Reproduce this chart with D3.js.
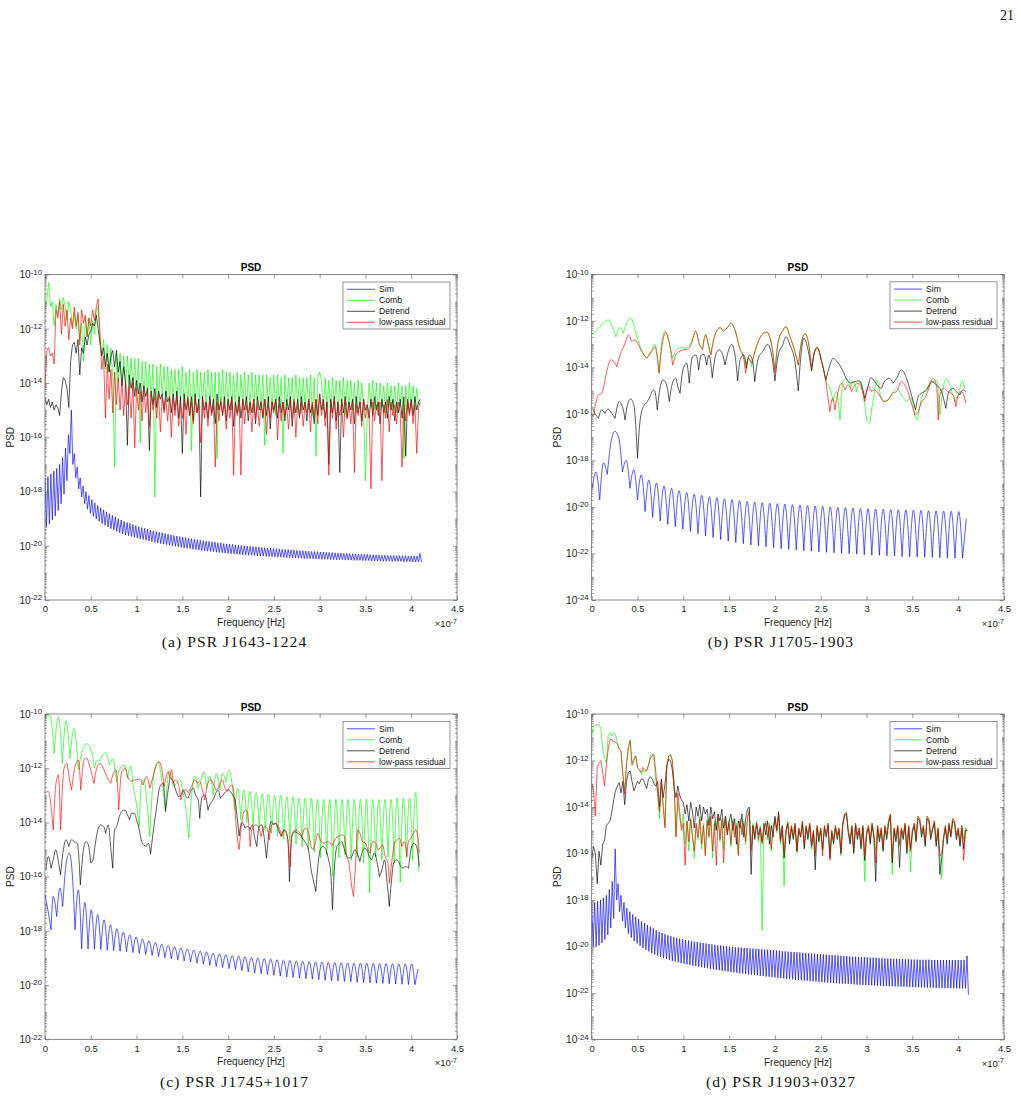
<!DOCTYPE html>
<html><head><meta charset="utf-8">
<script src="https://cdn.jsdelivr.net/npm/d3@7"></script>
<style>body{margin:0;background:#fff}svg{display:block}</style>
</head><body>
<script>
// ===== DATA (frequencies in units of 1e-7 Hz, PSD values as log10) =====
const legendLabels = ["Sim", "Comb", "Detrend", "low-pass residual"];
const xTickValues = [0, 0.5, 1, 1.5, 2, 2.5, 3, 3.5, 4, 4.5];
const captions = ["(a) PSR J1643-1224", "(b) PSR J1705-1903", "(c) PSR J1745+1017", "(d) PSR J1903+0327"];

// ---- Panel (a) PSR J1643-1224 : uniform grid, step 0.02 ----
const combA = [-11.3,-10.9,-10.3,-11.2,-11.0,-11.9,-11.1,-11.5,-10.9,-11.3,
-10.85,-11.2,-11.7,-11.0,-11.3,-11.9,-11.4,-12.0,-11.5,-12.4,
-11.8,-13.2,-11.6,-12.3,-11.6,-12.6,-11.7,-12.2,-11.4,-11.2,
-12.4,-13.0,-12.4,-13.5,-12.6,-13.6,-12.7,-13.8,-17.1,-12.9,
-14.0,-12.9,-14.1,-13.0,-14.2,-13.0,-14.1,-13.1,-14.3,-13.1,
-14.3,-13.1,-16.2,-13.2,-14.4,-13.2,-14.5,-13.3,-14.5,-13.3,
-18.2,-13.4,-14.6,-13.3,-14.5,-13.4,-14.7,-13.4,-14.7,-13.5,
-14.6,-13.5,-14.8,-13.5,-14.7,-13.4,-14.9,-13.6,-14.8,-13.5,
-16.5,-13.6,-14.8,-13.5,-15.0,-13.6,-14.8,-13.6,-14.9,-13.5,
-14.8,-13.6,-15.0,-13.6,-16.8,-13.6,-14.8,-13.5,-14.9,-13.6,
-14.8,-13.6,-15.0,-13.7,-14.9,-13.6,-15.1,-13.7,-14.8,-13.6,
-15.0,-13.7,-14.9,-13.6,-15.1,-13.7,-14.8,-13.7,-15.0,-13.7,
-16.3,-13.7,-14.9,-13.8,-15.0,-13.7,-15.2,-13.7,-14.9,-13.8,
-16.6,-13.7,-15.0,-13.8,-14.9,-13.8,-15.1,-13.7,-14.8,-13.8,
-15.1,-13.8,-14.9,-13.8,-15.0,-13.7,-15.2,-13.8,-16.7,-13.8,
-13.6,-13.9,-15.0,-13.8,-14.9,-13.9,-15.1,-13.8,-14.8,-13.9,
-15.1,-13.9,-14.9,-13.8,-15.2,-13.9,-14.9,-13.9,-15.0,-14.0,
-15.1,-13.9,-14.9,-14.0,-15.0,-17.6,-15.1,-14.0,-14.9,-13.9,
-15.0,-14.0,-15.2,-14.0,-14.9,-14.1,-15.1,-14.0,-14.9,-14.1,
-15.0,-14.1,-15.1,-14.0,-14.9,-14.1,-16.8,-14.1,-15.0,-14.0,
-14.9,-14.1,-15.0,-14.2,-14.8,-14.7];
const detrendA = [-14.55,-14.8,-14.6,-14.9,-14.7,-15.0,-14.8,-14.9,-15.2,-14.3,
-13.8,-13.9,-14.2,-14.9,-13.2,-12.6,-12.5,-12.9,-12.4,-13.7,
-12.7,-12.9,-12.3,-12.6,-12.2,-12.1,-11.8,-11.9,-11.5,-12.0,
-12.5,-13.0,-12.7,-13.4,-12.9,-13.6,-13.0,-12.8,-13.4,-12.8,
-13.6,-13.2,-14.1,-13.4,-14.0,-16.3,-13.7,-14.2,-13.8,-14.5,
-13.9,-14.4,-14.0,-14.7,-14.1,-14.5,-14.2,-16.5,-14.3,-14.8,
-14.2,-14.9,-14.3,-14.6,-14.4,-15.0,-14.3,-14.7,-14.5,-15.1,
-14.4,-15.0,-14.3,-15.3,-14.5,-16.6,-14.4,-15.0,-14.6,-15.2,
-14.5,-15.4,-14.4,-15.1,-14.6,-18.2,-14.5,-15.0,-14.7,-15.3,
-14.5,-15.1,-14.6,-15.5,-14.4,-15.0,-14.7,-15.2,-14.5,-15.4,
-14.6,-15.0,-14.5,-15.6,-14.7,-15.1,-14.5,-15.3,-14.6,-15.0,
-14.5,-15.4,-14.7,-15.1,-14.6,-15.5,-14.5,-15.0,-14.7,-15.3,
-14.6,-15.2,-14.5,-15.7,-14.7,-15.0,-14.6,-15.3,-14.5,-15.1,
-14.7,-15.4,-14.6,-15.0,-14.5,-15.6,-14.7,-15.1,-14.6,-15.3,
-14.5,-15.0,-14.7,-15.4,-14.6,-15.1,-14.8,-15.5,-14.6,-15.2,
-14.4,-15.0,-14.6,-15.3,-14.7,-17.0,-14.6,-15.1,-14.5,-15.4,
-14.7,-17.3,-14.6,-15.1,-14.5,-15.3,-14.7,-15.0,-14.6,-15.5,
-14.5,-15.1,-14.7,-15.4,-14.6,-15.0,-14.8,-15.3,-14.6,-15.2,
-14.5,-15.0,-14.7,-15.5,-14.6,-15.1,-14.7,-15.3,-14.5,-15.0,
-14.6,-15.4,-14.7,-15.1,-14.6,-15.3,-14.5,-16.7,-14.6,-15.1,
-14.6,-15.2,-14.5,-15.0,-14.7,-14.6];
const residA = [-14.2,-12.8,-12.7,-13.0,-12.9,-13.3,-11.3,-11.6,-11.0,-12.2,
-11.1,-11.9,-11.3,-12.4,-11.6,-12.0,-11.2,-11.9,-11.4,-12.6,
-11.3,-11.8,-11.5,-12.3,-11.6,-11.9,-11.3,-11.7,-11.2,-10.9,
-12.1,-13.5,-13.0,-15.3,-13.3,-14.6,-13.5,-15.1,-13.6,-14.8,
-13.8,-15.0,-13.9,-15.2,-14.0,-14.8,-14.1,-15.3,-14.0,-16.4,
-14.2,-15.0,-14.3,-15.4,-14.2,-15.1,-14.4,-15.6,-14.3,-15.0,
-14.5,-15.3,-14.4,-15.8,-14.5,-15.1,-14.6,-15.4,-14.5,-16.0,
-14.6,-15.2,-14.5,-15.6,-14.7,-15.3,-14.6,-15.9,-14.5,-15.2,
-14.7,-15.5,-14.6,-15.1,-14.8,-16.2,-14.6,-15.3,-14.7,-15.6,
-14.6,-15.2,-14.8,-17.1,-14.7,-15.4,-14.6,-15.1,-14.8,-15.7,
-14.7,-15.3,-14.6,-17.4,-14.8,-15.2,-14.7,-17.4,-14.6,-15.5,
-14.8,-15.1,-14.7,-15.8,-14.6,-15.3,-14.8,-15.6,-14.7,-15.2,
-14.6,-15.9,-14.8,-15.3,-14.7,-15.1,-14.6,-16.1,-14.8,-15.4,
-14.7,-15.2,-14.9,-15.7,-14.7,-15.3,-14.6,-16.0,-14.8,-15.2,
-14.7,-15.6,-14.8,-15.1,-14.6,-15.8,-14.7,-15.3,-14.6,-15.5,
-14.4,-15.2,-14.7,-15.6,-14.8,-17.4,-14.7,-15.3,-14.6,-15.7,
-14.8,-15.2,-14.7,-16.0,-14.6,-15.3,-14.8,-15.5,-14.7,-17.3,
-14.8,-15.2,-14.7,-15.6,-14.6,-15.3,-14.8,-15.1,-17.9,-14.7,
-15.4,-14.8,-15.2,-14.7,-17.6,-14.8,-15.3,-14.6,-15.8,-14.7,
-15.2,-14.8,-15.5,-14.7,-15.1,-17.1,-14.8,-15.4,-14.6,-15.2,
-14.7,-15.5,-14.8,-16.6,-14.9,-14.7];
// Sim (a): alternating peaks / troughs, half-step 0.016
const simPeaksA = [-17.5,-17.45,-17.35,-17.25,-17.15,-17.0,-16.75,-16.4,-15.9,-15.0,
-16.6,-17.1,-17.5,-17.8,-18.0,-18.15,-18.3,-18.42,-18.52,-18.6,
-18.68,-18.75,-18.82,-18.88,-18.94,-19.0,-19.05,-19.1,-19.14,-19.18,
-19.22,-19.26,-19.3,-19.33,-19.36,-19.39,-19.42,-19.45,-19.48,-19.5,
-19.52,-19.55,-19.57,-19.6,-19.62,-19.64,-19.66,-19.68,-19.7,-19.72,
-19.74,-19.76,-19.78,-19.8,-19.81,-19.83,-19.84,-19.86,-19.87,-19.89,
-19.9,-19.92,-19.93,-19.94,-19.95,-19.97,-19.98,-19.99,-20.0,-20.01,
-20.02,-20.03,-20.04,-20.05,-20.06,-20.07,-20.08,-20.09,-20.1,-20.11,
-20.12,-20.13,-20.14,-20.14,-20.15,-20.16,-20.17,-20.18,-20.18,-20.19,
-20.2,-20.21,-20.21,-20.22,-20.23,-20.23,-20.24,-20.25,-20.25,-20.26,
-20.27,-20.27,-20.28,-20.28,-20.29,-20.3,-20.3,-20.31,-20.31,-20.32,
-20.32,-20.33,-20.33,-20.34,-20.34,-20.35,-20.35,-20.35,-20.36,-20.36,
-20.36,-20.37,-20.37,-20.37,-20.38,-20.38,-20.38,-20.38,-20.28];
const simTroughsA = [-19.3,-19.2,-19.05,-18.9,-18.7,-18.45,-18.1,-17.6,-16.6,-17.0,
-17.5,-17.9,-18.2,-18.45,-18.65,-18.8,-18.92,-19.02,-19.1,-19.18,
-19.25,-19.31,-19.37,-19.42,-19.47,-19.52,-19.56,-19.6,-19.63,-19.66,
-19.69,-19.72,-19.75,-19.77,-19.8,-19.82,-19.85,-19.87,-19.9,-19.92,
-19.94,-19.96,-19.98,-20.0,-20.02,-20.04,-20.06,-20.08,-20.1,-20.11,
-20.13,-20.14,-20.16,-20.17,-20.19,-20.2,-20.21,-20.22,-20.24,-20.25,
-20.26,-20.27,-20.28,-20.29,-20.3,-20.31,-20.32,-20.33,-20.34,-20.35,
-20.35,-20.36,-20.37,-20.38,-20.38,-20.39,-20.4,-20.4,-20.41,-20.42,
-20.42,-20.43,-20.44,-20.44,-20.45,-20.45,-20.46,-20.46,-20.47,-20.47,
-20.48,-20.48,-20.49,-20.49,-20.5,-20.5,-20.5,-20.51,-20.51,-20.52,
-20.52,-20.52,-20.53,-20.53,-20.53,-20.54,-20.54,-20.54,-20.55,-20.55,
-20.55,-20.56,-20.56,-20.56,-20.57,-20.57,-20.57,-20.57,-20.58,-20.58,
-20.58,-20.58,-20.59,-20.59,-20.59,-20.6,-20.6,-20.6,-20.6];

// ---- Panel (b) PSR J1705-1903 ----
const simB = [-19.2,-18.5,-19.7,-18.1,-18.6,-17.2,-16.75,-17.0,-18.5,-18.0,
-19.2,-18.4,-19.7,-18.62,-20.2,-18.84,-20.45,-18.98,-20.6,-19.1,
-20.75,-19.2,-20.85,-19.3,-20.95,-19.38,-21.05,-19.45,-21.15,-19.5,
-21.25,-19.56,-21.32,-19.6,-21.4,-19.65,-21.47,-19.69,-21.53,-19.73,
-21.58,-19.76,-21.63,-19.79,-21.67,-19.82,-21.71,-19.84,-21.75,-19.86,
-21.79,-19.88,-21.82,-19.9,-21.85,-19.92,-21.88,-19.94,-21.9,-19.96,
-21.93,-19.98,-21.95,-20.0,-21.97,-20.02,-21.99,-20.03,-22.01,-20.05,
-22.03,-20.06,-22.05,-20.08,-22.07,-20.09,-22.08,-20.1,-22.1,-20.11,
-22.11,-20.12,-22.13,-20.13,-22.14,-20.14,-22.15,-20.15,-22.16,-20.16,
-22.17,-20.17,-22.18,-20.18,-22.19,-20.19,-22.2,-20.2,-22.2,-20.5];
const combB = [[0,-12.58],[0.055,-12.39],[0.127,-12.1],[0.18,-11.96],[0.218,-12.18],[0.265,-12.68],[0.31,-12.29],[0.345,-12.54],[0.39,-12.03],[0.425,-11.89],[0.473,-12.39],[0.51,-12.89],[0.545,-13.25],[0.6,-13.61],[0.655,-13.25],[0.69,-13.01],[0.71,-13.32],[0.735,-14.25],[0.765,-12.89],[0.8,-12.44],[0.836,-12.82],[0.884,-13.61],[0.927,-13.25],[0.98,-13.15],[1.036,-13.18],[1.08,-12.97],[1.135,-12.46],[1.18,-13.11],[1.21,-13.18],[1.244,-12.58],[1.273,-13.04],[1.3,-13.47],[1.345,-12.61],[1.4,-12.32],[1.436,-12.46],[1.49,-12.25],[1.516,-12.1],[1.564,-12.39],[1.62,-13.18],[1.655,-13.47],[1.68,-14.04],[1.71,-13.61],[1.745,-13.97],[1.8,-13.04],[1.855,-12.61],[1.91,-12.49],[1.964,-13.04],[2.0,-14.11],[2.036,-12.89],[2.09,-12.39],[2.12,-12.25],[2.164,-12.68],[2.218,-13.32],[2.255,-13.9],[2.29,-12.89],[2.327,-12.54],[2.364,-12.89],[2.4,-14.11],[2.436,-13.25],[2.46,-13.11],[2.51,-13.75],[2.556,-14.58],[2.6,-14.9],[2.636,-15.47],[2.67,-15.04],[2.71,-16.26],[2.745,-14.61],[2.78,-14.5],[2.825,-14.9],[2.855,-14.58],[2.89,-15.04],[2.935,-14.61],[2.98,-15.62],[3.007,-16.33],[3.036,-16.4],[3.07,-15.47],[3.116,-14.54],[3.16,-15.33],[3.22,-15.47],[3.27,-15.19],[3.33,-14.9],[3.38,-15.19],[3.436,-15.47],[3.49,-15.33],[3.527,-16.05],[3.556,-16.26],[3.6,-15.33],[3.655,-14.9],[3.71,-14.68],[3.764,-14.54],[3.8,-16.05],[3.836,-14.9],[3.873,-14.47],[3.93,-15.04],[3.964,-15.47],[4.0,-15.19],[4.047,-14.58],[4.07,-14.9]];
const detrendB = [[0.01,-15.76],[0.036,-15.98],[0.073,-16.19],[0.11,-15.83],[0.145,-15.98],[0.18,-15.79],[0.218,-15.98],[0.255,-16.19],[0.3,-15.47],[0.345,-15.83],[0.364,-16.26],[0.39,-15.62],[0.425,-15.36],[0.46,-15.62],[0.5,-17.91],[0.527,-16.33],[0.564,-15.69],[0.607,-15.47],[0.636,-15.26],[0.673,-14.97],[0.69,-15.04],[0.716,-15.83],[0.745,-14.9],[0.78,-14.54],[0.818,-14.76],[0.847,-15.47],[0.876,-14.76],[0.916,-14.47],[0.945,-14.9],[0.964,-15.11],[1.0,-14.04],[1.036,-13.82],[1.065,-14.68],[1.1,-13.54],[1.14,-13.47],[1.167,-14.11],[1.196,-13.47],[1.225,-13.44],[1.255,-13.9],[1.28,-13.47],[1.316,-14.44],[1.353,-13.47],[1.39,-13.25],[1.425,-13.4],[1.455,-13.9],[1.49,-13.32],[1.527,-13.01],[1.564,-13.47],[1.593,-14.58],[1.625,-13.61],[1.66,-13.47],[1.69,-14.04],[1.72,-13.47],[1.753,-13.68],[1.78,-14.61],[1.818,-13.61],[1.865,-13.32],[1.92,-13.01],[1.964,-13.47],[2.0,-14.58],[2.036,-13.47],[2.084,-13.04],[2.12,-12.68],[2.164,-13.04],[2.218,-13.75],[2.255,-15.01],[2.284,-13.47],[2.316,-12.75],[2.353,-13.11],[2.4,-14.15],[2.436,-13.32],[2.465,-13.18],[2.51,-13.75],[2.556,-14.54],[2.6,-13.9],[2.636,-13.61],[2.69,-13.82],[2.745,-14.18],[2.78,-14.5],[2.825,-14.68],[2.873,-14.61],[2.92,-14.58],[2.956,-14.9],[2.98,-15.33],[3.02,-14.76],[3.047,-14.44],[3.09,-14.61],[3.127,-14.83],[3.164,-14.9],[3.2,-14.58],[3.247,-14.47],[3.29,-14.68],[3.327,-14.47],[3.38,-14.11],[3.436,-14.47],[3.48,-15.04],[3.51,-15.47],[3.535,-15.83],[3.564,-15.26],[3.6,-15.11],[3.655,-14.97],[3.71,-14.61],[3.764,-14.76],[3.818,-15.04],[3.865,-15.76],[3.9,-15.04],[3.945,-14.9],[3.98,-15.04],[4.018,-15.19],[4.055,-14.97],[4.084,-15.04]];
const residB = [[0.0,-16.1],[0.02,-16.0],[0.036,-15.69],[0.073,-15.19],[0.11,-15.11],[0.127,-14.9],[0.164,-14.18],[0.207,-13.68],[0.244,-13.75],[0.273,-13.97],[0.31,-13.47],[0.364,-12.97],[0.4,-12.61],[0.436,-12.89],[0.473,-12.82],[0.51,-13.04],[0.545,-13.32],[0.6,-13.61],[0.655,-13.32],[0.69,-13.11],[0.735,-14.25],[0.775,-12.89],[0.807,-12.49],[0.844,-12.89],[0.884,-13.9],[0.927,-13.4],[1.0,-13.25],[1.055,-13.21],[1.09,-12.97],[1.135,-12.44],[1.18,-13.04],[1.21,-13.25],[1.244,-12.61],[1.273,-13.01],[1.3,-13.47],[1.345,-12.61],[1.4,-12.29],[1.436,-12.44],[1.49,-12.25],[1.516,-12.1],[1.564,-12.39],[1.62,-13.25],[1.655,-13.54],[1.68,-14.25],[1.71,-13.61],[1.745,-13.82],[1.8,-13.11],[1.855,-12.61],[1.91,-12.49],[1.964,-13.04],[2.0,-14.25],[2.036,-12.89],[2.09,-12.39],[2.12,-12.25],[2.164,-12.68],[2.218,-13.32],[2.255,-13.9],[2.29,-12.89],[2.327,-12.56],[2.364,-12.92],[2.4,-14.04],[2.436,-13.25],[2.46,-13.14],[2.51,-13.75],[2.556,-14.61],[2.58,-15.33],[2.6,-15.9],[2.63,-15.33],[2.655,-15.83],[2.69,-15.04],[2.727,-14.68],[2.764,-14.97],[2.8,-14.76],[2.836,-15.04],[2.873,-14.76],[2.91,-14.68],[2.945,-14.9],[2.98,-15.47],[3.02,-14.83],[3.055,-15.04],[3.09,-14.97],[3.14,-15.19],[3.18,-15.47],[3.236,-15.4],[3.284,-15.11],[3.327,-15.04],[3.38,-14.61],[3.436,-14.9],[3.49,-15.54],[3.527,-16.05],[3.564,-15.9],[3.6,-15.47],[3.636,-15.33],[3.673,-14.97],[3.71,-14.54],[3.727,-14.47],[3.764,-14.83],[3.782,-16.26],[3.8,-15.19],[3.84,-14.9],[3.89,-15.04],[3.945,-15.19],[3.975,-15.69],[4.0,-15.19],[4.036,-15.04],[4.084,-15.54]];

// ---- Panel (c) PSR J1745+1017 ----
const simHeadC = [[0,-16.67],[0.03,-17.2],[0.066,-17.96],[0.09,-16.73],[0.128,-17.47],[0.164,-16.42],[0.193,-17.1],[0.237,-15.38],[0.266,-15.13],[0.3,-16.0],[0.328,-17.96],[0.364,-16.49]];
const simC = [-18.67,-16.95,-18.67,-17.22,-18.68,-17.4,-18.69,-17.59,-18.71,-17.78,
-18.73,-17.92,-18.75,-18.05,-18.77,-18.15,-18.8,-18.22,-18.83,-18.3,
-18.87,-18.37,-18.91,-18.43,-18.95,-18.49,-18.99,-18.54,-19.03,-18.59,
-19.07,-18.63,-19.11,-18.67,-19.15,-18.71,-19.19,-18.75,-19.23,-18.78,
-19.27,-18.82,-19.31,-18.85,-19.35,-18.88,-19.39,-18.91,-19.43,-18.93,
-19.47,-18.96,-19.51,-18.98,-19.55,-19.0,-19.58,-19.02,-19.61,-19.04,
-19.64,-19.06,-19.67,-19.08,-19.7,-19.09,-19.72,-19.11,-19.74,-19.12,
-19.76,-19.13,-19.78,-19.14,-19.8,-19.15,-19.82,-19.16,-19.84,-19.17,
-19.85,-19.18,-19.87,-19.18,-19.88,-19.19,-19.9,-19.19,-19.91,-19.2,
-19.92,-19.2,-19.93,-19.21,-19.94,-19.21,-19.95,-19.21,-19.96,-19.22,
-19.97,-19.22,-19.98,-19.22,-19.99,-19.4];
const combHeadC = [[0.01,-10.07],[0.055,-10.07],[0.1,-11.45],[0.146,-10.12],[0.19,-11.82],[0.23,-10.25],[0.273,-11.63],[0.317,-10.53],[0.364,-12.06],[0.4,-11.45],[0.455,-11.1],[0.51,-11.39],[0.54,-12.0],[0.57,-11.7],[0.6,-11.72],[0.63,-11.51],[0.663,-11.43],[0.703,-11.88],[0.74,-11.67],[0.783,-12.53],[0.82,-12.0],[0.863,-11.88],[0.9,-12.37],[0.936,-11.92],[0.965,-12.68],[1.0,-13.35],[1.03,-14.15],[1.055,-12.49],[1.084,-12.43],[1.11,-13.17],[1.145,-14.52],[1.19,-12.19],[1.236,-11.76],[1.284,-12.68],[1.316,-13.54],[1.356,-12.09],[1.4,-12.68],[1.436,-12.56],[1.473,-12.43],[1.51,-12.92],[1.54,-13.54],[1.57,-14.58],[1.6,-13.05],[1.636,-12.29],[1.673,-12.74],[1.7,-12.49],[1.735,-12.13],[1.764,-12.74],[1.8,-12.29],[1.836,-12.99],[1.873,-12.21],[1.91,-12.8],[1.94,-12.19],[1.975,-12.53],[2.01,-12.06],[2.047,-12.68],[2.07,-13.54]];
const combC = [-12.75,-13.9,-12.8,-14.0,-12.85,-14.1,-12.9,-14.2,-12.95,-14.3,
-12.95,-14.4,-13.0,-14.5,-13.0,-14.6,-13.05,-14.7,-13.05,-14.8,
-13.1,-14.9,-13.1,-15.0,-13.1,-15.1,-13.15,-15.3,-13.15,-15.2,
-13.15,-16.0,-13.15,-15.3,-13.15,-15.2,-13.15,-15.4,-13.15,-15.3,
-13.15,-15.5,-13.15,-16.6,-13.15,-15.3,-13.15,-15.4,-13.15,-15.3,
-13.15,-15.5,-13.1,-16.2,-13.1,-15.3,-13.1,-15.4,-12.9,-15.8];
const detrendC = [[0.01,-15.75],[0.036,-15.26],[0.066,-15.69],[0.09,-15.38],[0.117,-15.01],[0.146,-15.44],[0.17,-15.93],[0.2,-15.01],[0.23,-14.64],[0.26,-14.89],[0.29,-14.64],[0.32,-14.71],[0.353,-14.77],[0.386,-16.3],[0.42,-15.01],[0.448,-14.71],[0.474,-14.83],[0.5,-15.5],[0.525,-15.38],[0.55,-14.77],[0.583,-14.21],[0.612,-14.09],[0.64,-14.15],[0.663,-14.4],[0.692,-14.09],[0.72,-15.01],[0.74,-15.69],[0.76,-14.28],[0.783,-14.15],[0.812,-13.78],[0.838,-13.6],[0.874,-13.54],[0.9,-13.72],[0.925,-13.9],[0.947,-13.66],[0.976,-13.66],[1.0,-13.9],[1.03,-14.28],[1.056,-14.71],[1.08,-14.83],[1.105,-14.89],[1.13,-14.77],[1.153,-15.16],[1.18,-14.4],[1.22,-13.42],[1.255,-12.68],[1.29,-12.56],[1.316,-13.6],[1.345,-12.8],[1.37,-12.37],[1.4,-12.49],[1.425,-12.78],[1.455,-13.05],[1.484,-12.99],[1.51,-12.8],[1.54,-13.05],[1.564,-13.1],[1.59,-12.86],[1.62,-12.74],[1.645,-12.99],[1.673,-13.17],[1.69,-13.85],[1.716,-13.05],[1.745,-12.99],[1.78,-13.54],[1.807,-13.29],[1.836,-13.17],[1.865,-12.92],[1.89,-12.8],[1.916,-13.11],[1.945,-12.99],[1.975,-12.86],[2.0,-12.8],[2.025,-12.86],[2.05,-12.99],[2.076,-13.17],[2.09,-13.54],[2.12,-14.5],[2.15,-14.0],[2.186,-14.21],[2.215,-14.15],[2.24,-14.27],[2.266,-14.09],[2.288,-14.52],[2.313,-14.89],[2.339,-14.15],[2.368,-14.09],[2.397,-14.64],[2.419,-15.32],[2.441,-14.52],[2.47,-13.97],[2.496,-14.09],[2.521,-14.03],[2.55,-14.28],[2.58,-14.52],[2.609,-14.28],[2.63,-14.34],[2.652,-14.64],[2.67,-16.18],[2.696,-14.52],[2.732,-14.34],[2.76,-14.4],[2.787,-14.46],[2.823,-14.64],[2.85,-14.77],[2.878,-15.01],[2.907,-15.75],[2.93,-16.12],[2.958,-16.55],[2.98,-15.63],[3.006,-15.01],[3.035,-14.89],[3.068,-15.01],[3.097,-15.38],[3.118,-15.75],[3.14,-17.22],[3.162,-15.63],[3.188,-14.89],[3.213,-14.77],[3.242,-14.71],[3.271,-15.01],[3.297,-15.26],[3.322,-15.32],[3.352,-15.26],[3.381,-15.01],[3.41,-15.13],[3.439,-15.44],[3.461,-15.13],[3.49,-14.95],[3.516,-15.01],[3.541,-15.26],[3.57,-15.38],[3.6,-15.13],[3.625,-15.44],[3.654,-16.0],[3.68,-15.75],[3.709,-15.38],[3.734,-16.12],[3.76,-17.1],[3.782,-16.24],[3.807,-15.5],[3.833,-15.38],[3.86,-15.44],[3.887,-15.63],[3.915,-15.69],[3.942,-15.63],[3.971,-15.69],[3.996,-15.01],[4.026,-14.77],[4.051,-14.83],[4.073,-15.13],[4.088,-15.63]];
const residC = [[0.0,-12.9],[0.036,-12.86],[0.09,-14.28],[0.12,-12.56],[0.146,-12.25],[0.17,-14.28],[0.208,-12.0],[0.237,-11.82],[0.266,-12.37],[0.29,-12.8],[0.328,-11.94],[0.364,-11.7],[0.39,-12.8],[0.43,-11.67],[0.455,-11.63],[0.49,-11.94],[0.535,-12.56],[0.57,-11.94],[0.6,-11.82],[0.637,-12.0],[0.667,-12.25],[0.718,-12.56],[0.746,-12.19],[0.776,-12.06],[0.805,-13.54],[0.838,-12.13],[0.874,-12.0],[0.91,-12.37],[0.947,-12.49],[0.984,-12.43],[1.0,-12.43],[1.036,-12.4],[1.07,-12.62],[1.11,-12.31],[1.145,-12.74],[1.18,-12.31],[1.21,-11.94],[1.244,-11.76],[1.27,-11.94],[1.3,-12.68],[1.316,-12.43],[1.345,-12.13],[1.364,-12.37],[1.38,-12.06],[1.4,-12.56],[1.425,-12.43],[1.455,-12.56],[1.484,-13.17],[1.51,-12.86],[1.535,-12.8],[1.564,-12.9],[1.6,-12.68],[1.636,-12.43],[1.665,-12.56],[1.69,-12.49],[1.727,-12.92],[1.745,-13.17],[1.78,-12.56],[1.807,-12.43],[1.836,-12.56],[1.865,-12.8],[1.89,-12.74],[1.91,-12.56],[1.94,-12.43],[1.96,-12.68],[1.99,-12.86],[2.02,-12.68],[2.047,-12.62],[2.07,-13.17],[2.09,-14.2],[2.12,-15.0],[2.15,-14.0],[2.186,-13.54],[2.21,-13.6],[2.24,-14.89],[2.26,-14.28],[2.295,-14.09],[2.33,-14.15],[2.36,-14.52],[2.4,-14.15],[2.425,-14.21],[2.45,-14.64],[2.477,-14.09],[2.514,-14.03],[2.55,-14.15],[2.587,-14.52],[2.62,-14.28],[2.652,-14.64],[2.678,-15.63],[2.696,-14.46],[2.732,-14.27],[2.77,-14.34],[2.805,-14.52],[2.842,-14.21],[2.88,-14.4],[2.907,-14.89],[2.93,-15.01],[2.955,-14.71],[2.98,-14.4],[3.016,-14.71],[3.05,-14.77],[3.09,-14.71],[3.115,-14.77],[3.14,-14.83],[3.177,-14.58],[3.206,-14.52],[3.242,-14.46],[3.27,-14.52],[3.297,-15.26],[3.32,-15.5],[3.345,-16.24],[3.37,-16.73],[3.388,-15.75],[3.417,-14.27],[3.44,-14.4],[3.468,-14.71],[3.5,-14.77],[3.527,-15.01],[3.55,-15.13],[3.58,-14.71],[3.61,-14.77],[3.636,-15.01],[3.66,-14.95],[3.687,-14.83],[3.716,-15.26],[3.745,-15.5],[3.763,-16.24],[3.79,-15.38],[3.818,-14.77],[3.844,-14.64],[3.87,-14.58],[3.898,-14.89],[3.925,-14.71],[3.953,-15.26],[3.97,-14.71],[3.996,-14.58],[4.025,-14.4],[4.05,-14.27],[4.07,-14.52],[4.088,-15.13]];

// ---- Panel (d) PSR J1903+0327 : uniform grid, step 0.02 ----
const combD = [-11.0,-10.5,-10.45,-10.5,-10.45,-10.65,-11.5,-11.9,-12.1,-10.9,
-10.8,-10.95,-10.8,-10.9,-11.2,-11.5,-11.6,-12.6,-13.3,-12.0,
-11.4,-11.1,-12.1,-11.9,-11.8,-12.3,-12.4,-12.6,-12.4,-12.5,
-12.4,-12.2,-11.8,-11.7,-12.0,-12.9,-13.4,-14.5,-12.9,-13.8,
-14.8,-12.2,-11.8,-11.75,-12.0,-13.0,-15.2,-13.8,-14.5,-14.9,
-14.3,-15.6,-14.6,-15.9,-14.5,-15.3,-16.2,-14.8,-15.4,-14.4,
-15.8,-14.7,-16.0,-14.5,-15.2,-14.4,-16.2,-14.6,-15.0,-14.3,
-15.5,-14.5,-15.8,-14.4,-15.0,-14.6,-15.7,-14.5,-15.2,-14.7,
-16.0,-14.5,-15.1,-14.6,-15.6,-14.4,-14.1,-15.8,-14.7,-15.3,
-14.6,-15.5,-14.8,-19.3,-15.0,-14.6,-15.4,-14.7,-15.9,-14.8,
-14.5,-15.1,-14.3,-15.6,-14.9,-17.4,-15.0,-14.6,-15.5,-14.8,
-15.3,-14.7,-16.0,-14.9,-15.2,-14.6,-15.7,-14.8,-15.3,-14.7,
-15.8,-15.0,-16.1,-14.8,-15.4,-14.9,-15.9,-14.8,-15.2,-14.7,
-16.0,-15.0,-15.5,-14.8,-15.3,-14.9,-16.1,-14.7,-14.3,-14.2,
-15.0,-15.5,-14.8,-15.9,-14.7,-15.3,-14.9,-15.7,-14.8,-17.2,
-15.1,-14.8,-15.5,-14.7,-15.2,-15.9,-14.8,-15.4,-14.9,-15.8,
-14.8,-15.3,-14.6,-14.3,-16.9,-14.9,-15.4,-14.8,-15.7,-14.9,
-15.3,-14.7,-15.9,-14.8,-16.8,-15.0,-14.7,-15.4,-14.4,-14.5,
-15.2,-14.8,-15.6,-14.4,-14.5,-15.3,-14.9,-14.6,-15.6,-14.9,
-16.0,-17.1,-15.3,-14.8,-15.5,-14.7,-15.2,-14.5,-14.6,-15.3,
-14.9,-15.6,-14.8,-15.4,-14.9,-15.1];
const detrendD = [-16.2,-15.7,-16.0,-17.3,-15.9,-16.5,-15.6,-15.45,-14.8,-14.7,
-14.6,-14.2,-13.7,-13.3,-13.1,-12.95,-13.4,-12.9,-13.9,-12.9,
-12.5,-12.45,-12.9,-13.3,-13.1,-12.9,-13.0,-12.8,-12.8,-13.0,
-13.2,-12.8,-12.7,-12.8,-13.0,-13.1,-12.9,-14.0,-12.8,-13.6,
-13.0,-12.2,-11.95,-12.0,-12.4,-13.2,-13.6,-13.1,-13.5,-13.7,
-13.8,-14.3,-13.9,-14.6,-13.8,-14.2,-14.9,-14.0,-14.4,-13.9,
-14.6,-14.0,-14.3,-14.1,-14.8,-14.0,-14.5,-14.2,-15.0,-14.3,
-14.6,-14.1,-14.9,-14.4,-15.2,-14.6,-14.3,-15.0,-14.5,-15.6,
-14.6,-14.9,-14.3,-15.3,-14.5,-14.1,-14.0,-16.9,-14.8,-15.4,
-14.7,-15.2,-14.9,-15.5,-14.7,-15.2,-14.6,-15.6,-14.8,-15.3,
-14.4,-15.0,-14.2,-15.4,-14.8,-16.2,-15.1,-14.7,-15.6,-14.9,
-15.4,-14.8,-15.9,-15.0,-15.3,-14.7,-15.8,-14.9,-15.4,-14.8,
-15.7,-15.1,-16.7,-14.9,-15.5,-15.0,-15.8,-14.9,-15.3,-14.8,
-16.2,-15.1,-15.6,-14.9,-15.4,-15.0,-16.0,-14.8,-14.4,-14.3,
-15.1,-15.6,-14.9,-16.0,-14.8,-15.4,-15.0,-15.8,-14.9,-16.3,
-15.2,-14.9,-15.6,-14.8,-15.3,-17.2,-14.9,-15.5,-15.0,-15.9,
-14.9,-15.4,-14.7,-14.4,-16.4,-15.0,-15.5,-14.9,-16.6,-15.0,
-15.4,-14.8,-16.0,-14.9,-15.8,-15.1,-14.8,-15.5,-14.5,-14.6,
-15.3,-14.9,-15.7,-14.5,-14.6,-15.4,-15.0,-14.7,-15.7,-15.0,
-16.9,-16.2,-15.4,-14.9,-15.6,-14.8,-15.3,-14.6,-14.7,-15.4,
-15.0,-15.7,-14.9,-15.8,-15.0,-15.0];
const residD = [-13.0,-13.3,-14.4,-12.3,-12.1,-12.0,-12.5,-13.1,-12.2,-11.5,
-11.1,-11.1,-11.2,-11.2,-11.3,-11.5,-11.6,-12.6,-13.45,-12.2,
-11.5,-11.15,-12.2,-12.0,-11.8,-12.3,-12.4,-12.5,-12.3,-12.4,
-12.45,-12.2,-11.9,-11.8,-11.75,-12.5,-13.45,-14.2,-12.9,-14.0,
-14.9,-12.3,-11.8,-11.75,-12.0,-13.0,-15.3,-13.4,-14.2,-15.0,
-14.7,-16.5,-14.6,-15.5,-14.5,-15.2,-15.9,-14.7,-15.3,-14.5,
-15.6,-14.8,-16.1,-14.6,-15.3,-14.4,-15.9,-14.7,-16.5,-14.4,
-15.4,-14.6,-16.4,-14.5,-15.1,-14.7,-15.6,-14.6,-15.3,-14.8,
-16.1,-14.6,-15.2,-14.7,-15.5,-14.5,-14.2,-15.9,-14.8,-15.2,
-14.7,-15.4,-14.9,-15.6,-15.0,-14.7,-15.3,-14.8,-15.8,-14.9,
-14.5,-15.0,-14.3,-15.5,-14.9,-16.0,-15.0,-14.7,-15.4,-14.8,
-15.2,-14.7,-15.9,-14.9,-15.3,-14.6,-15.6,-14.8,-15.2,-14.7,
-15.7,-15.0,-16.0,-14.8,-15.3,-14.9,-16.1,-14.8,-15.2,-14.7,
-16.3,-15.0,-15.4,-14.8,-15.2,-14.9,-15.9,-14.7,-14.3,-14.25,
-15.0,-15.4,-14.8,-15.8,-14.7,-15.2,-14.9,-15.6,-14.8,-16.1,
-15.1,-14.8,-15.4,-14.7,-15.2,-16.4,-14.8,-15.3,-14.9,-15.7,
-14.8,-15.2,-14.6,-14.3,-16.2,-14.9,-15.3,-14.8,-15.6,-14.9,
-15.2,-14.7,-15.8,-14.8,-15.9,-15.0,-14.7,-15.3,-14.4,-14.5,
-15.1,-14.8,-15.5,-14.4,-14.5,-15.2,-14.9,-14.6,-15.5,-14.9,
-16.1,-16.0,-15.3,-14.8,-15.4,-14.7,-15.2,-14.5,-14.6,-15.2,
-14.9,-15.5,-14.8,-16.3,-15.0,-15.0];
const simPeaksD = [-18.1,-18.1,-18.05,-18.0,-17.9,-17.8,-17.55,-17.2,-15.8,-17.3,
-17.8,-18.1,-18.35,-18.5,-18.62,-18.72,-18.82,-18.92,-19.0,-19.08,
-19.15,-19.22,-19.3,-19.37,-19.42,-19.47,-19.52,-19.56,-19.6,-19.63,
-19.66,-19.69,-19.72,-19.74,-19.77,-19.79,-19.81,-19.83,-19.85,-19.87,
-19.89,-19.91,-19.93,-19.95,-19.96,-19.98,-19.99,-20.01,-20.02,-20.03,
-20.04,-20.05,-20.06,-20.07,-20.08,-20.09,-20.1,-20.11,-20.12,-20.13,
-20.14,-20.15,-20.16,-20.17,-20.18,-20.2,-20.21,-20.22,-20.23,-20.24,
-20.25,-20.26,-20.27,-20.28,-20.29,-20.3,-20.31,-20.32,-20.33,-20.34,
-20.35,-20.36,-20.37,-20.38,-20.39,-20.4,-20.41,-20.42,-20.43,-20.44,
-20.44,-20.45,-20.46,-20.46,-20.47,-20.48,-20.48,-20.49,-20.5,-20.5,
-20.51,-20.52,-20.52,-20.53,-20.53,-20.54,-20.54,-20.55,-20.55,-20.56,
-20.56,-20.56,-20.57,-20.57,-20.57,-20.57,-20.58,-20.58,-20.58,-20.58,
-20.58,-20.58,-20.58,-20.58,-20.58,-20.58,-20.58,-20.58,-20.4];
const simTroughsD = [-20.0,-20.0,-19.95,-19.85,-19.7,-19.5,-19.2,-18.8,-18.0,-18.5,
-18.9,-19.2,-19.45,-19.62,-19.76,-19.87,-19.97,-20.06,-20.14,-20.21,
-20.28,-20.34,-20.4,-20.45,-20.5,-20.54,-20.58,-20.62,-20.65,-20.68,
-20.71,-20.74,-20.77,-20.79,-20.82,-20.84,-20.87,-20.89,-20.91,-20.93,
-20.96,-20.98,-21.0,-21.02,-21.04,-21.06,-21.08,-21.1,-21.11,-21.13,
-21.15,-21.16,-21.18,-21.2,-21.21,-21.23,-21.24,-21.26,-21.27,-21.29,
-21.3,-21.32,-21.33,-21.35,-21.36,-21.37,-21.39,-21.4,-21.41,-21.43,
-21.44,-21.45,-21.46,-21.47,-21.49,-21.5,-21.51,-21.52,-21.53,-21.54,
-21.55,-21.56,-21.57,-21.58,-21.59,-21.6,-21.6,-21.61,-21.62,-21.63,
-21.64,-21.64,-21.65,-21.66,-21.67,-21.67,-21.68,-21.69,-21.69,-21.7,
-21.7,-21.71,-21.71,-21.72,-21.72,-21.73,-21.73,-21.74,-21.74,-21.75,
-21.75,-21.75,-21.76,-21.76,-21.77,-21.77,-21.77,-21.78,-21.78,-21.78,
-21.79,-21.79,-21.79,-21.8,-21.8,-21.8,-21.8,-21.8,-22.08];

// ===== RENDERING =====
function uniform(x0, step, vals) { return vals.map((v, i) => [x0 + i * step, v]); }
function interleave(x0, half, peaks, troughs) {
  const out = [];
  const n = peaks.length + troughs.length;
  for (let j = 0; j < n; j++) out.push([x0 + j * half, j % 2 === 0 ? peaks[j / 2] : troughs[(j - 1) / 2]]);
  return out;
}
const colors = ["#0000ff", "#00ff00", "#000000", "#ff0000"];
const FONT = '"Liberation Sans", Arial, Helvetica, sans-serif';
const SERIF = '"Liberation Serif", "Times New Roman", serif';

const panels = [
  { id: "a", left: 45, top: 274.5, right: 457, bottom: 600, yMin: -22, smooth: false,
    series: [interleave(0, 0.016, simPeaksA, simTroughsA), uniform(0, 0.02, combA), uniform(0, 0.02, detrendA), uniform(0, 0.02, residA)],
    caption: captions[0], capX: 234.5, capY: 647 },
  { id: "b", left: 591.7, top: 274.3, right: 1004, bottom: 600, yMin: -24, smooth: true,
    series: [uniform(0.005, 0.04125, simB), combB, detrendB, residB],
    caption: captions[1], capX: 781, capY: 647 },
  { id: "c", left: 45, top: 714, right: 457, bottom: 1039.3, yMin: -22, smooth: true,
    series: [simHeadC.concat(uniform(0.4, 0.035, simC)), combHeadC.concat(uniform(2.105, 0.0335, combC)), detrendC, residC],
    caption: captions[2], capX: 234.5, capY: 1087 },
  { id: "d", left: 591.7, top: 714, right: 1004, bottom: 1039.5, yMin: -24, smooth: false,
    series: [interleave(0, 0.016, simPeaksD, simTroughsD), uniform(0, 0.02, combD), uniform(0, 0.02, detrendD), uniform(0, 0.02, residD)],
    caption: captions[3], capX: 781, capY: 1087 }
];

const svg = d3.select("body").append("svg").attr("width", 1021).attr("height", 1098);
svg.append("rect").attr("width", 1021).attr("height", 1098).attr("fill", "#fff");
svg.append("text").attr("x", 1014).attr("y", 20).attr("text-anchor", "end")
  .attr("font-family", SERIF).attr("font-size", 14).attr("fill", "#111").text("21");

function archPath(pts, line) {
  const cuts = [0];
  for (let i = 1; i < pts.length - 1; i++) {
    if (pts[i][1] <= pts[i - 1][1] && pts[i][1] < pts[i + 1][1]) cuts.push(i);
  }
  cuts.push(pts.length - 1);
  let d = "";
  for (let k = 0; k < cuts.length - 1; k++) d += line(pts.slice(cuts[k], cuts[k + 1] + 1));
  return d;
}

panels.forEach(p => {
  const g = svg.append("g");
  const x = d3.scaleLinear().domain([0, 4.5]).range([p.left, p.right]);
  const y = d3.scaleLog().domain([Math.pow(10, p.yMin), 1e-10]).range([p.bottom, p.top]);

  const clipId = "clip-" + p.id;
  svg.append("clipPath").attr("id", clipId).append("rect")
    .attr("x", p.left).attr("y", p.top).attr("width", p.right - p.left).attr("height", p.bottom - p.top);

  const lineLin = d3.line().x(d => x(d[0])).y(d => y(Math.pow(10, d[1])));
  const lineSmooth = d3.line().x(d => x(d[0])).y(d => y(Math.pow(10, d[1]))).curve(d3.curveMonotoneX);
  const lg = g.append("g").attr("clip-path", `url(#${clipId})`);
  p.series.forEach((pts, si) => {
    lg.append("path")
      .attr("d", p.smooth ? archPath(pts, lineSmooth) : lineLin(pts))
      .attr("fill", "none").attr("stroke", colors[si])
      .attr("stroke-width", 0.65).attr("stroke-linejoin", "round");
  });

  const majors = [], minors = [];
  for (let e = p.yMin; e <= -10; e++) {
    for (let m = 1; m <= 9; m++) {
      if (e === -10 && m > 1) break;
      const v = m * Math.pow(10, e);
      if (m === 1 && (e % 2 === 0)) majors.push(v); else minors.push(v);
    }
  }
  const axColor = "#555";
  function styleAxis(sel) {
    sel.select(".domain").remove();
    sel.selectAll(".tick line").attr("stroke", axColor).attr("stroke-width", 0.6);
    sel.attr("font-family", FONT);
  }
  const xb = g.append("g").attr("transform", `translate(0,${p.bottom})`)
    .call(d3.axisBottom(x).tickValues(xTickValues).tickSizeInner(-4).tickSizeOuter(0).tickPadding(5.5)
      .tickFormat(d => d3.format("~g")(d)));
  styleAxis(xb);
  xb.selectAll(".tick text").attr("font-size", 9.5).attr("fill", "#262626");
  const xt = g.append("g").attr("transform", `translate(0,${p.top})`)
    .call(d3.axisTop(x).tickValues(xTickValues).tickSizeInner(-4).tickSizeOuter(0).tickFormat(""));
  styleAxis(xt);

  const yl = g.append("g").attr("transform", `translate(${p.left},0)`)
    .call(d3.axisLeft(y).tickValues(majors).tickSizeInner(-4).tickSizeOuter(0).tickPadding(3).tickFormat(() => "10"));
  styleAxis(yl);
  yl.selectAll(".tick text").attr("font-size", 10.2).attr("fill", "#262626")
    .each(function(d) {
      const exp = Math.round(Math.log10(d));
      d3.select(this).append("tspan").attr("dy", "-0.45em").attr("font-size", 7.8).text(String(exp));
    });
  const ylm = g.append("g").attr("transform", `translate(${p.left},0)`)
    .call(d3.axisLeft(y).tickValues(minors).tickSizeInner(-2).tickSizeOuter(0).tickFormat(""));
  styleAxis(ylm);
  const yr = g.append("g").attr("transform", `translate(${p.right},0)`)
    .call(d3.axisRight(y).tickValues(majors).tickSizeInner(-4).tickSizeOuter(0).tickFormat(""));
  styleAxis(yr);
  const yrm = g.append("g").attr("transform", `translate(${p.right},0)`)
    .call(d3.axisRight(y).tickValues(minors).tickSizeInner(-2).tickSizeOuter(0).tickFormat(""));
  styleAxis(yrm);

  g.append("rect").attr("x", p.left).attr("y", p.top).attr("width", p.right - p.left).attr("height", p.bottom - p.top)
    .attr("fill", "none").attr("stroke", axColor).attr("stroke-width", 0.7);

  const cx = (p.left + p.right) / 2;
  g.append("text").attr("x", cx).attr("y", p.top - 3.5).attr("text-anchor", "middle")
    .attr("font-family", FONT).attr("font-weight", "bold").attr("font-size", 10).attr("fill", "#000").text("PSD");
  g.append("text").attr("x", cx).attr("y", p.bottom + 26).attr("text-anchor", "middle")
    .attr("font-family", FONT).attr("font-size", 10).attr("fill", "#262626").text("Frequency [Hz]");
  g.append("text").attr("transform", `translate(${p.left - 34.5},${(p.top + p.bottom) / 2}) rotate(-90)`)
    .attr("text-anchor", "middle").attr("dy", "0.35em")
    .attr("font-family", FONT).attr("font-size", 10).attr("fill", "#262626").text("PSD");
  const mult = g.append("text").attr("x", p.right).attr("y", p.bottom + 27).attr("text-anchor", "end")
    .attr("font-family", FONT).attr("font-size", 9.5).attr("fill", "#262626");
  mult.append("tspan").text("\u00d710");
  mult.append("tspan").attr("dy", "-0.45em").attr("font-size", 7).text("-7");

  const lx = p.right - 114, ly = p.top + 7.5;
  const leg = g.append("g").attr("transform", `translate(${lx},${ly})`);
  leg.append("rect").attr("width", 107).attr("height", 47).attr("fill", "#fff")
    .attr("stroke", "#666").attr("stroke-width", 0.7);
  legendLabels.forEach((lab, i) => {
    const yy = 7.3 + 11 * i;
    leg.append("line").attr("x1", 4).attr("x2", 32).attr("y1", yy).attr("y2", yy)
      .attr("stroke", colors[i]).attr("stroke-width", 0.7);
    leg.append("text").attr("x", 36).attr("y", yy).attr("dy", "0.35em")
      .attr("font-family", FONT).attr("font-size", 8.6).attr("fill", "#111").text(lab);
  });

  svg.append("text").attr("x", p.capX).attr("y", p.capY).attr("text-anchor", "middle")
    .attr("font-family", SERIF).attr("font-size", 15.5).attr("letter-spacing", 1.1)
    .attr("fill", "#111").text(p.caption);
});
</script>
</body></html>
